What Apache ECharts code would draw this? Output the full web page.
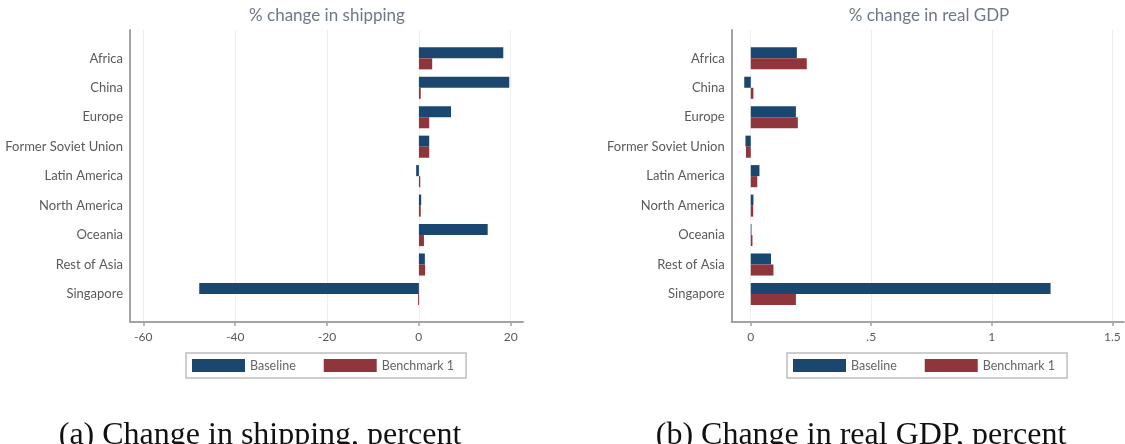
<!DOCTYPE html>
<html>
<head>
<meta charset="utf-8">
<script src="https://cdn.jsdelivr.net/npm/echarts@6/dist/echarts.min.js"></script>
<style>
  html, body { margin: 0; padding: 0; background: #fff; }
  #main { width: 1125px; height: 444px; }
</style>
</head>
<body>
<div id="main"></div>
<script>
var categories = ['Africa', 'China', 'Europe', 'Former Soviet Union', 'Latin America',
  'North America', 'Oceania', 'Rest of Asia', 'Singapore'];

// % change in shipping
var shipBaseline = [18.4, 19.7, 7.0, 2.25, -0.6, 0.5, 15.0, 1.3, -47.9];
var shipBench = [2.9, 0.4, 2.25, 2.25, 0.3, 0.4, 1.1, 1.35, -0.2];
var shipTicks = [-60, -40, -20, 0, 20];

// % change in real GDP
var gdpBaseline = [0.191, -0.027, 0.187, -0.022, 0.036, 0.011, 0.003, 0.084, 1.242];
var gdpBench = [0.232, 0.011, 0.195, -0.02, 0.027, 0.01, 0.007, 0.094, 0.187];
var gdpTicks = [0, 0.5, 1, 1.5];
var gdpTickLabels = ['0', '.5', '1', '1.5'];

var seriesNames = ['Baseline', 'Benchmark 1'];
var colors = ['#1a476f', '#90353b'];

var FONT = 'Lato';
var axisGray = '#a3a3a3';
var labelGray = '#5a5a5a';

var chart = echarts.init(document.getElementById('main'), null, { renderer: 'canvas' });

// frame grid: only the L-shaped axis lines
function frameAxes(gi) {
  return {
    x: { type: 'value', gridIndex: gi, min: 0, max: 1, position: 'bottom',
      axisLine: { show: true, onZero: false, lineStyle: { color: axisGray, width: 2 } },
      axisTick: { show: false }, axisLabel: { show: false }, splitLine: { show: false } },
    y: { type: 'value', gridIndex: gi, min: 0, max: 1, position: 'left',
      axisLine: { show: true, onZero: false, lineStyle: { color: axisGray, width: 2 } },
      axisTick: { show: false }, axisLabel: { show: false }, splitLine: { show: false } }
  };
}

// tick grid: ticks, labels and grid lines
function tickAxes(gi, ticks, labels) {
  return {
    x: { type: 'value', gridIndex: gi, min: ticks[0], max: ticks[ticks.length - 1],
      interval: ticks[1] - ticks[0], position: 'bottom',
      axisLine: { show: false },
      axisTick: { show: true, length: 4, lineStyle: { color: axisGray, width: 1.5 } },
      axisLabel: { show: true, margin: 9, color: labelGray, fontSize: 12, fontFamily: FONT,
        formatter: function (v) {
          var i = ticks.indexOf(v);
          return labels ? labels[i] : String(v);
        } },
      splitLine: { show: true, lineStyle: { color: '#eceef2', width: 1 } } },
    y: { type: 'value', gridIndex: gi, min: 0, max: 1, show: false }
  };
}

// bar grid: categories
function barAxes(gi, min, max) {
  return {
    x: { type: 'value', gridIndex: gi, min: min, max: max, show: false },
    y: { type: 'category', gridIndex: gi, data: categories, inverse: true,
      axisLine: { show: false }, axisTick: { show: false },
      axisLabel: { margin: 7, color: labelGray, fontSize: 13, fontFamily: FONT },
      splitLine: { show: false } }
  };
}

var axesList = [
  frameAxes(0), tickAxes(1, shipTicks, null), barAxes(2, -63.0, 22.7),
  frameAxes(3), tickAxes(4, gdpTicks, gdpTickLabels), barAxes(5, -0.079, 1.545)
];

function barSeries(name, data, color, axisIdx) {
  return {
    name: name, type: 'bar', data: data,
    xAxisIndex: axisIdx, yAxisIndex: axisIdx,
    barGap: '0%', barCategoryGap: '25%',
    itemStyle: { color: color },
    emphasis: { disabled: true }
  };
}

function legendAt(left) {
  return {
    data: seriesNames, left: left, top: 353, orient: 'horizontal',
    icon: 'rect', itemWidth: 53, itemHeight: 13, itemGap: 28,
    padding: [6, 12, 6, 6],
    borderColor: '#bdbdbd', borderWidth: 1.5,
    textStyle: { color: '#666', fontSize: 12.5, fontFamily: FONT },
    selectedMode: false
  };
}

var option = {
  animation: false,
  backgroundColor: '#fff',
  title: [
    { text: '% change in shipping', left: 327, top: 7, textAlign: 'center', padding: 0,
      textStyle: { color: '#6f7888', fontSize: 17, fontWeight: 'normal', fontFamily: FONT } },
    { text: '% change in real GDP', left: 929, top: 7, textAlign: 'center', padding: 0,
      textStyle: { color: '#6f7888', fontSize: 17, fontWeight: 'normal', fontFamily: FONT } },
    { text: '(a) Change in shipping, percent', left: 260, top: 420, textAlign: 'center', padding: 0,
      textStyle: { color: '#111', fontSize: 32, lineHeight: 32, fontWeight: 'normal',
        fontFamily: '"Liberation Serif", "DejaVu Serif", serif' } },
    { text: '(b) Change in real GDP, percent', left: 861, top: 420, textAlign: 'center', padding: 0,
      textStyle: { color: '#111', fontSize: 32, lineHeight: 32, fontWeight: 'normal',
        fontFamily: '"Liberation Serif", "DejaVu Serif", serif' } }
  ],
  legend: [legendAt(186), legendAt(787)],
  grid: [
    { left: 130, top: 30, width: 393, height: 292 },
    { left: 143.3, top: 30, width: 367.4, height: 292 },
    { left: 130, top: 43.6, width: 393, height: 265.1 },
    { left: 731.7, top: 30, width: 392, height: 292 },
    { left: 750.7, top: 30, width: 361.6, height: 292 },
    { left: 731.7, top: 43.6, width: 392, height: 265.1 }
  ],
  xAxis: axesList.map(function (a) { return a.x; }),
  yAxis: axesList.map(function (a) { return a.y; }),
  series: [
    barSeries(seriesNames[0], shipBaseline, colors[0], 2),
    barSeries(seriesNames[1], shipBench, colors[1], 2),
    barSeries(seriesNames[0], gdpBaseline, colors[0], 5),
    barSeries(seriesNames[1], gdpBench, colors[1], 5)
  ]
};

chart.setOption(option);
</script>
</body>
</html>
